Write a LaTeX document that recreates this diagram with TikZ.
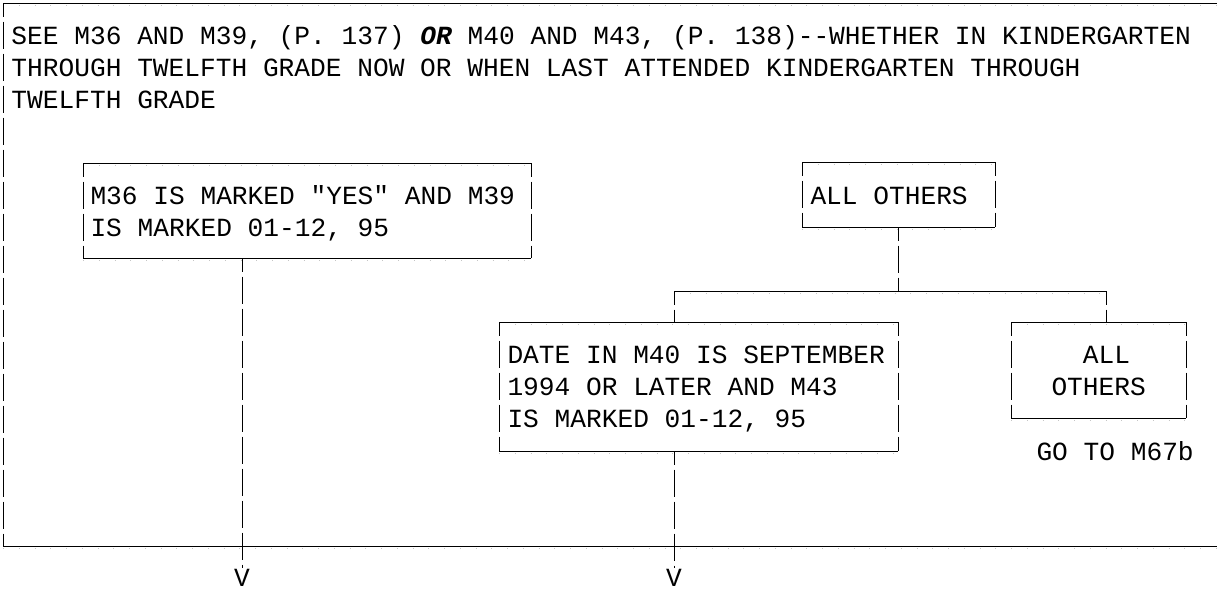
\documentclass[tikz,border=0pt]{standalone}
\usepackage{fontspec}
\setmonofont{Liberation Mono}
\usepackage{tikz}
\tikzset{
  formbox/.style={draw=none,inner sep=0pt,outer sep=0pt},
  formtext/.style={anchor=base west,inner sep=0pt,align=left},
  vdash/.style={dash pattern=on 27.5pt off 4.5pt,dash phase=13.5pt},
  hticks/.style={postaction={draw,gray!45,dash pattern=on 1pt off 14.75pt,transform canvas={yshift=-2.5pt}}},
}

\begin{document}
\begin{tikzpicture}[x=1pt,y=-1pt,line width=1pt,font=\ttfamily\fontsize{26.2}{31.6}\selectfont]
\useasboundingbox (0,0) rectangle (1217,590);
% outer frame
\draw[hticks] (3,3) -- (1217,3);
\draw[vdash] (3,3) -- (3,546);
\draw[hticks] (3,546) -- (1217,546);
% base of a text block = baseline of its last line
\node[formtext] (header) at (11,108) {SEE M36 AND M39, (P. 137) \textbf{\textit{OR}} M40 AND M43, (P. 138)--WHETHER IN KINDERGARTEN\\THROUGH TWELFTH GRADE NOW OR WHEN LAST ATTENDED KINDERGARTEN THROUGH\\TWELFTH GRADE};
% boxes
\node[formbox,minimum width=448pt,minimum height=95pt] (yes) at (307,210.5) {};
\node[formbox,minimum width=193pt,minimum height=65pt] (others) at (898.5,194.5) {};
\node[formbox,minimum width=399pt,minimum height=129pt] (date) at (698.5,386.5) {};
\node[formbox,minimum width=175pt,minimum height=96pt] (rest) at (1098.5,370) {};
\draw[hticks] (yes.north west) -- (yes.north east) (yes.south west) -- (yes.south east);
\draw[vdash] (yes.north west) -- (yes.south west) (yes.north east) -- (yes.south east);
\draw[hticks] (others.north west) -- (others.north east) (others.south west) -- (others.south east);
\draw[vdash] (others.north west) -- (others.south west) (others.north east) -- (others.south east);
\draw[hticks] (date.north west) -- (date.north east) (date.south west) -- (date.south east);
\draw[vdash] (date.north west) -- (date.south west) (date.north east) -- (date.south east);
\draw[hticks] (rest.north west) -- (rest.north east) (rest.south west) -- (rest.south east);
\draw[vdash] (rest.north west) -- (rest.south west) (rest.north east) -- (rest.south east);
% box texts
\node[formtext] (yestext) at (90,236.5) {M36 IS MARKED "YES" AND M39\\IS MARKED 01-12, 95};
\node[formtext] (otherstext) at (810,204) {ALL OTHERS};
\node[formtext] (datetext) at (507,427) {DATE IN M40 IS SEPTEMBER\\1994 OR LATER AND M43\\IS MARKED 01-12, 95};
\node[formtext] (resttext) at (1051,395.5) {\hphantom{XX}ALL\\OTHERS};
\node[formtext] (goto) at (1036,460) {GO TO M67b};
% connectors
\node[anchor=base,inner sep=0pt] (downA) at (242,586) {V};
\node[anchor=base,inner sep=0pt] (downB) at (674,586) {V};
\coordinate (splitL) at (674,291);
\coordinate (splitR) at (1106,291);
\draw[vdash] (yes.south -| downA) -- (downA.north);
\draw[vdash] (others.south) -- (others.south |- splitL);
\draw[hticks] (splitL) -- (splitR);
\draw[vdash] (splitL) -- (date.north -| splitL);
\draw[vdash] (splitR) -- (rest.north -| splitR);
\draw[vdash] (date.south -| downB) -- (downB.north);
\end{tikzpicture}
\end{document}
